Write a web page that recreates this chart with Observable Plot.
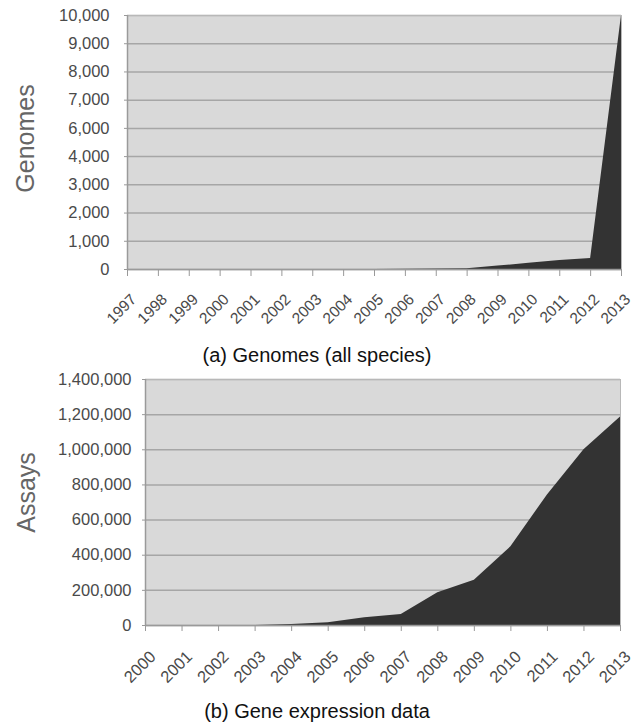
<!DOCTYPE html>
<html><head><meta charset="utf-8">
<script src="https://cdn.jsdelivr.net/npm/d3@7"></script>
<script src="https://cdn.jsdelivr.net/npm/@observablehq/plot@0.6"></script>
<style>
body{margin:0;background:#fff;font-family:"Liberation Sans",Arial,sans-serif;}
#wrap{width:634px;}
.cap{width:634px;text-align:center;font-size:20px;color:#111;font-family:"Liberation Sans",Arial,sans-serif;}
svg{display:block}
</style></head><body><div id="wrap"></div>
<script>
// (a) Genomes (all species)
const yearsA = [1997,1998,1999,2000,2001,2002,2003,2004,2005,2006,2007,2008,2009,2010,2011,2012,2013];
const genomes = [0,0,0,0,0,0,0,0,0,5,20,25,120,220,320,390,10000];
const ticksA = [0,1000,2000,3000,4000,6000,7000,8000,9000,10000];
const tickLabelsA = ["0","1,000","2,000","3,000","4,000","6,000","7,000","8,000","9,000","10,000"];

// (b) Gene expression data
const yearsB = [2000,2001,2002,2003,2004,2005,2006,2007,2008,2009,2010,2011,2012,2013];
const assays = [0,0,0,0,5000,15000,44000,63000,187000,257000,448000,743000,1000000,1187000];
const ticksB = [0,200000,400000,600000,800000,1000000,1200000,1400000];

const captionA = "(a) Genomes (all species)";
const captionB = "(b) Gene expression data";

const dataA = yearsA.map((year, i) => ({year, value: genomes[i]}));
const dataB = yearsB.map((year, i) => ({year, value: assays[i]}));

const BG = "#d9d9d9", GRID = "#a6a6a6", AREA = "#333333", TXT = "#4a4a4a";
const wrap = document.getElementById("wrap");

// Chart A
{
  const mt = 15, mb = 71, H = 340;
  const top = mt, bottom = H - mb, u = (bottom - top) / 9;
  const chart = Plot.plot({
    width: 634, height: H,
    marginTop: mt, marginBottom: mb, marginLeft: 127, marginRight: 13,
    style: {fontFamily: "Liberation Sans, Arial, sans-serif", background: "#fff", fontSize: "16.5px"},
    x: {type: "linear", domain: [yearsA[0], yearsA[yearsA.length - 1]]},
    y: {type: "linear", domain: [0, 4000, 6000, 10000], range: [bottom, bottom - 4 * u, bottom - 5 * u, top], clamp: true},
    marks: [
      Plot.frame({fill: BG, stroke: null}),
      Plot.gridY(ticksA, {stroke: GRID, strokeOpacity: 1, strokeWidth: 1.5}),
      Plot.areaY(dataA, {x: "year", y: "value", fill: AREA}),
      Plot.frame({stroke: "#b8b8b8", strokeWidth: 1}),
      Plot.ruleX([yearsA[0]], {stroke: "#9a9a9a", strokeWidth: 1.5}),
      Plot.ruleY([0], {stroke: "#9a9a9a", strokeWidth: 1.5}),
      Plot.axisY({ticks: ticksA, tickFormat: d => tickLabelsA[ticksA.indexOf(d)], tickSize: 3, tickPadding: 15, fill: TXT, stroke: "#999", label: null}),
      Plot.axisX({ticks: yearsA, tickFormat: () => "", tickSize: 7, stroke: "#999", label: null}),
      Plot.text(yearsA, {x: d => d, text: d => String(d), frameAnchor: "bottom", rotate: -45, textAnchor: "end", lineAnchor: "top", dx: 2, dy: 23, fontSize: 15.5, fill: TXT}),
      Plot.text(["Genomes"], {frameAnchor: "left", textAnchor: "middle", lineAnchor: "middle", rotate: -90, dx: -102, dy: -4, fontSize: 25, fill: "#666", text: d => d})
    ]
  });
  wrap.appendChild(chart);
  const cap = document.createElement("div");
  cap.className = "cap"; cap.style.height = "30px"; cap.style.lineHeight = "30px";
  cap.textContent = captionA;
  wrap.appendChild(cap);
}

// Chart B
{
  const chart = Plot.plot({
    width: 634, height: 325,
    marginTop: 9, marginBottom: 70, marginLeft: 145, marginRight: 14,
    style: {fontFamily: "Liberation Sans, Arial, sans-serif", background: "#fff", fontSize: "16.5px"},
    x: {type: "linear", domain: [yearsB[0], yearsB[yearsB.length - 1]]},
    y: {type: "linear", domain: [0, 1400000]},
    marks: [
      Plot.frame({fill: BG, stroke: null}),
      Plot.gridY(ticksB, {stroke: GRID, strokeOpacity: 1, strokeWidth: 1.5}),
      Plot.areaY(dataB, {x: "year", y: "value", fill: AREA}),
      Plot.frame({stroke: "#b8b8b8", strokeWidth: 1}),
      Plot.ruleX([yearsB[0]], {stroke: "#9a9a9a", strokeWidth: 1.5}),
      Plot.ruleY([0], {stroke: "#9a9a9a", strokeWidth: 1.5}),
      Plot.axisY({ticks: ticksB, tickFormat: d3.format(","), tickSize: 3, tickPadding: 11, fill: TXT, stroke: "#999", label: null}),
      Plot.axisX({ticks: yearsB, tickFormat: () => "", tickSize: 6, stroke: "#999", label: null}),
      Plot.text(yearsB, {x: d => d, text: d => String(d), frameAnchor: "bottom", rotate: -45, textAnchor: "end", lineAnchor: "top", dx: 3, dy: 24, fontSize: 16.5, fill: TXT}),
      Plot.text(["Assays"], {frameAnchor: "left", textAnchor: "middle", lineAnchor: "middle", rotate: -90, dx: -119, dy: -10, fontSize: 25, fill: "#666", text: d => d})
    ]
  });
  wrap.appendChild(chart);
  const cap = document.createElement("div");
  cap.className = "cap"; cap.style.height = "33px"; cap.style.lineHeight = "33px";
  cap.textContent = captionB;
  wrap.appendChild(cap);
}
</script></body></html>
